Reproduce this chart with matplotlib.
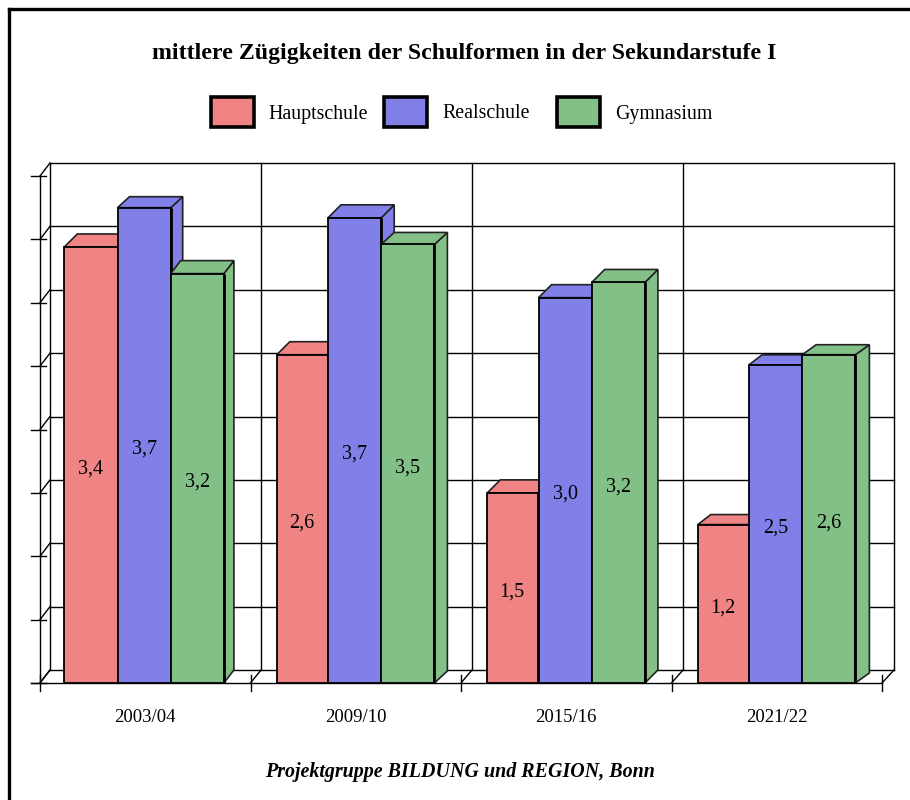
import matplotlib
matplotlib.use("Agg")
import matplotlib.pyplot as plt
from matplotlib.lines import Line2D
from matplotlib.patches import Polygon, Rectangle

title = "mittlere Zügigkeiten der Schulformen in der Sekundarstufe I"
source = "Projektgruppe BILDUNG und REGION, Bonn"
years = ["2003/04", "2009/10", "2015/16", "2021/22"]
series_names = ["Hauptschule", "Realschule", "Gymnasium"]
hauptschule = [3.44, 2.59, 1.50, 1.25]
realschule = [3.75, 3.67, 3.04, 2.51]
gymnasium = [3.23, 3.46, 3.16, 2.59]
labels_h = ["3,4", "2,6", "1,5", "1,2"]
labels_r = ["3,7", "3,7", "3,0", "2,5"]
labels_g = ["3,2", "3,5", "3,2", "2,6"]
colors = ["#F08484", "#8080E8", "#82C088"]

W, H = 910, 800
plt.rcParams["font.family"] = ["Liberation Serif"]
fig = plt.figure(figsize=(W / 100, H / 100), dpi=100)
L, R, T, B = 40, 882, 176, 683
ax = fig.add_axes([L / W, 1 - B / H, (R - L) / W, (B - T) / H])
ax.set_xlim(0, 4)
ax.set_ylim(0, 4)
ax.axis("off")

# page frame: only top and left edges
fig.add_artist(Line2D([8.5 / W, 1], [1 - 8.5 / H, 1 - 8.5 / H], color="black", lw=2.4, transform=fig.transFigure))
fig.add_artist(Line2D([8.5 / W, 8.5 / W], [1 - 8.5 / H, 0], color="black", lw=2.4, transform=fig.transFigure))

DX, DY = 10, 13           # wall depth (px)
BACK_R = 894              # right edge of back wall (px)
slot_px = (R - L) / 4
back_slot = (BACK_R - (L + DX)) / 4
lw_axis = 1.0
px_kw = dict(transform=None, color="black", lw=lw_axis, clip_on=False, zorder=1)

# walls and grid
for i in range(9):
    v = i * 0.5
    x0, y0 = ax.transData.transform((0, v))
    ax.plot([x0 + DX, BACK_R], [y0 + DY, y0 + DY], **px_kw)
    ax.plot([x0, x0 + DX], [y0, y0 + DY], **px_kw)
    ax.plot([x0 - 9, x0 + 6], [y0, y0], **px_kw)
for g in range(5):
    x0, y0 = ax.transData.transform((g, 0))
    xb = L + DX + g * back_slot
    _, ytop = ax.transData.transform((0, 4))
    ax.plot([xb, xb], [y0 + DY, ytop + DY], **px_kw)
    ax.plot([x0, xb], [y0, y0 + DY], **px_kw)
    ax.plot([x0, x0], [y0 - 8, y0 + 8], **px_kw)
ax.plot([0, 0], [0, 4], color="black", lw=lw_axis, clip_on=False, zorder=1)
ax.plot([-9 / slot_px, 4], [0, 0], color="black", lw=lw_axis, clip_on=False, zorder=1)

# bars
group_left = 24.3 / slot_px
bar_w = 53.2 / slot_px
all_vals = [hauptschule, realschule, gymnasium]
all_labs = [labels_h, labels_r, labels_g]
bar_dx = [[13, 12, 10], [13, 13, 13], [13, 13, 13], [13, 13, 14]]
bar_dy = [[13, 11, 13], [13, 13, 12], [13, 13, 13], [10, 10, 10]]
red_inset = [0, 2 / slot_px, 2 / slot_px, 2 / slot_px]
for g in range(4):
    for s in range(3):
        v = all_vals[s][g]
        x0 = g + group_left + s * bar_w
        x1 = x0 + bar_w
        cx = (x0 + x1) / 2
        if s == 0:
            x0 += red_inset[g]
        z = 3 + s * 0.1
        c = colors[s]
        dx, dy = bar_dx[g][s], bar_dy[g][s]
        xa, ya = ax.transData.transform((x0, 0))
        xb, yb = ax.transData.transform((x1, v))
        ec = "#222222"
        ax.add_patch(Polygon([(xb, ya), (xb + dx, ya + dy), (xb + dx, yb + dy), (xb, yb)], closed=True,
                             transform=None, fc=c, ec=ec, lw=1.2, zorder=z, clip_on=False))
        ax.add_patch(Polygon([(xa, yb), (xa + dx, yb + dy), (xb + dx, yb + dy), (xb, yb)], closed=True,
                             transform=None, fc=c, ec=ec, lw=1.2, zorder=z, clip_on=False))
        ax.bar(x0, v, width=x1 - x0, align="edge", color=c, edgecolor="black", lw=1.3, zorder=z + 0.01, clip_on=False)
        ax.plot([x1, x1], [0, v], color="black", lw=2.0, zorder=z + 0.02, clip_on=False, solid_capstyle="butt")
        ax.annotate(all_labs[s][g], (cx, v / 2), xytext=(0, -4), textcoords="offset pixels",
                    ha="center", va="center", fontsize=14.5, zorder=10)
    ax.text(g + 0.5, -0.276, years[g], ha="center", va="center", fontsize=13.5, clip_on=False)

# title, legend, footer
fig.text(464 / W, 1 - 54 / H, title, ha="center", va="center", fontsize=17.2, fontweight="bold")
fig.text(460 / W, 1 - 772 / H, source, ha="center", va="center", fontsize=14.4, fontweight="bold", style="italic")
leg_x = [211, 384, 557]
txt_x = [268, 442, 615]
for x, tx, c, n in zip(leg_x, txt_x, colors, series_names):
    fig.add_artist(Rectangle((x / W, 1 - 126.5 / H), 43 / W, 29.5 / H, fc=c, ec="black", lw=2.6, transform=fig.transFigure))
    fig.text(tx / W, 1 - 114 / H, n, ha="left", va="center", fontsize=14.3)

fig.savefig("out.png", dpi=100, facecolor="white")
